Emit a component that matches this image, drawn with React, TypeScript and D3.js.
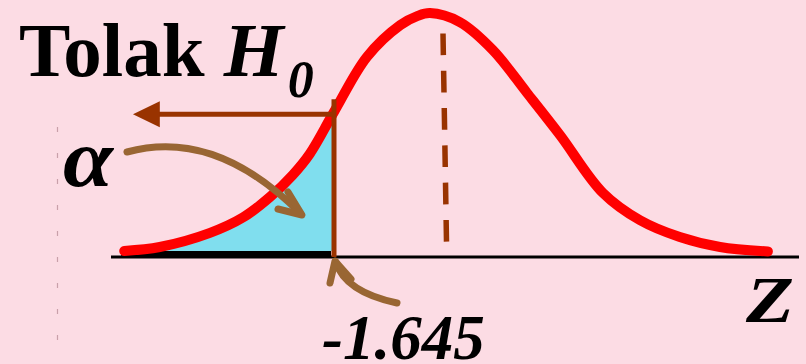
import React from 'react';
import * as d3 from 'd3';

// Normal curve (z, density)
const curveZ = [-5.24, -4.63, -3.77, -3.2, -2.74, -2.35, -2.06, -1.645, -1.08, -0.51, -0.22, 0, 0.51, 1.08, 1.66, 2.23, 2.96, 3.6, 4.28, 4.97, 5.79];
const curveDensity = [0.0017, 0.0084, 0.032, 0.058, 0.092, 0.129, 0.164, 0.234, 0.326, 0.379, 0.394, 0.399, 0.384, 0.337, 0.266, 0.195, 0.099, 0.053, 0.025, 0.0084, 0.001];
const criticalZ = -1.645;
const criticalLabel = '-1.645';
const axisLabel = 'Z';
const rejectWord = 'Tolak ';
const hypothesis = 'H';
const hypothesisSub = '0';
const alphaLabel = 'α';

const W = 806;
const H = 364;

export default function App() {
  const x = d3.scaleLinear().domain([criticalZ, 0]).range([334, 430]);
  const y = d3.scaleLinear().domain([0, 0.4]).range([252, 12.5]);
  const axisY = y(0) + 5;

  const pts: [number, number][] = curveZ.map((z, i) => [z, curveDensity[i]]);
  const tail = pts.filter((p) => p[0] <= criticalZ + 1e-9);

  const line = d3
    .line<[number, number]>()
    .x((d) => x(d[0]))
    .y((d) => y(d[1]))
    .curve(d3.curveCatmullRom.alpha(0.5));

  const cyanArea = d3
    .area<[number, number]>()
    .x((d) => x(d[0]))
    .y0(y(0) - 1)
    .y1((d) => y(d[1]))
    .curve(d3.curveCatmullRom.alpha(0.5));

  const blackArea = d3
    .area<[number, number]>()
    .x((d) => x(d[0]))
    .y0(axisY + 3)
    .y1((d) => y(d[1]))
    .curve(d3.curveCatmullRom.alpha(0.5));

  const xc = x(criticalZ);
  const arrowY = y(0.23);
  const tipX = x(-5.09);
  const baseX = x(-4.63);

  const serif = "'Liberation Serif', 'Times New Roman', serif";
  const brown = '#993300';
  const tan = '#996633';

  return (
    <svg
      width={W}
      height={H}
      style={{ position: 'fixed', left: 0, top: 0, display: 'block' }}
      xmlns="http://www.w3.org/2000/svg"
    >
      <rect x={0} y={0} width={W} height={H} fill="#FCDCE4" />
      <line x1={57.5} x2={57.5} y1={127} y2={344} stroke="#C9A0AA" strokeWidth={1.2} strokeDasharray="5 21" />

      <path d={blackArea(tail) || ''} fill="#000" transform="translate(-3,-3)" />
      <path d={cyanArea(tail) || ''} fill="#80DEEE" />

      <line x1={111} x2={799} y1={axisY} y2={axisY} stroke="#000" strokeWidth={3} />

      <path d={line(pts) || ''} fill="none" stroke="#FF0000" strokeWidth={10} strokeLinecap="round" strokeLinejoin="round" />

      {/* mean dashed line */}
      <line
        x1={x(0) + 13}
        y1={y(0.365)}
        x2={x(0) + 16.5}
        y2={y(0.017)}
        stroke={brown}
        strokeWidth={5.5}
        strokeDasharray="21.7 15.6"
      />

      {/* critical value line */}
      <line x1={xc} x2={xc} y1={y(0.255)} y2={axisY} stroke={brown} strokeWidth={5} />
      {/* rejection arrow */}
      <line x1={xc} x2={baseX - 2} y1={arrowY} y2={arrowY} stroke={brown} strokeWidth={5} />
      <path d={`M${tipX},${arrowY} L${baseX},${arrowY - 13} L${baseX},${arrowY + 13} Z`} fill={brown} />

      {/* alpha curved arrow */}
      <path d="M127,152 Q215,128 300,213" fill="none" stroke={tan} strokeWidth={7} strokeLinecap="round" />
      <path d="M278,209 L302,215 L288,192" fill="none" stroke={tan} strokeWidth={7} strokeLinecap="round" strokeLinejoin="round" />

      {/* critical value curved arrow */}
      <path d={`M397,303 Q345,292 ${xc + 2},262`} fill="none" stroke={tan} strokeWidth={7} strokeLinecap="round" />
      <path d={`M330,283 L${xc + 1},261 L351,279`} fill="none" stroke={tan} strokeWidth={7} strokeLinecap="round" strokeLinejoin="round" />

      {/* texts */}
      <text x={19} y={76} fontFamily={serif} fontWeight="bold" fontSize={77} fill="#000">
        {rejectWord}
        <tspan fontStyle="italic">{hypothesis}</tspan>
        <tspan fontStyle="italic" fontSize={52} dy={21} dx={4}>
          {hypothesisSub}
        </tspan>
      </text>
      <text
        x={63}
        y={186}
        fontFamily={serif}
        fontWeight="bold"
        fontStyle="italic"
        fontSize={82}
        fill="#000"
        textLength={50}
        lengthAdjust="spacingAndGlyphs"
      >
        {alphaLabel}
      </text>
      <text x={322} y={359} fontFamily={serif} fontWeight="bold" fontStyle="italic" fontSize={63} fill="#000">
        {criticalLabel}
      </text>
      <text
        x={746}
        y={322}
        fontFamily={serif}
        fontWeight="bold"
        fontStyle="italic"
        fontSize={65}
        fill="#000"
        textLength={48}
        lengthAdjust="spacingAndGlyphs"
      >
        {axisLabel}
      </text>
    </svg>
  );
}
